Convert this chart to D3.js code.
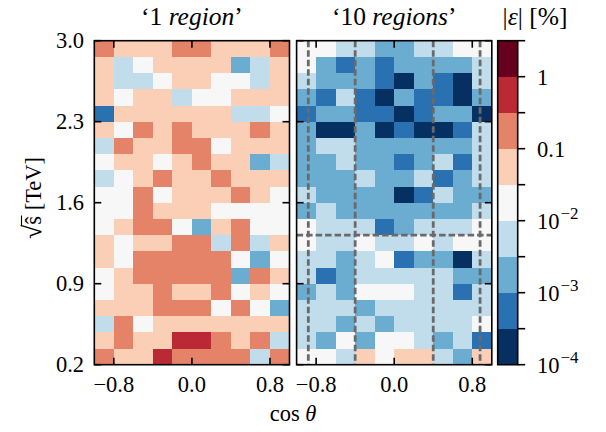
<!DOCTYPE html>
<html>
<head>
<meta charset="utf-8">
<script src="https://cdn.jsdelivr.net/npm/d3@7"></script>
<style>
  body { margin: 0; background: #fff; }
  svg { display: block; font-family: "Liberation Serif", "DejaVu Serif", serif; }
</style>
</head>
<body>
<div id="chart"></div>
<script>
// log10(|eps| in %) per cell, rows from sqrt(s)=3.0 down to 0.2, columns cos(theta) -1 -> 1
const oneRegion = [
  [-0.75,-1.25,-1.25,-1.25,-0.75,-0.75,-1.25,-1.25,-1.25,-0.75],
  [-1.25,-2.25,-1.75,-1.25,-1.25,-1.25,-1.25,-2.75,-2.25,-1.25],
  [-1.25,-2.25,-2.25,-1.75,-1.25,-1.25,-1.75,-1.75,-2.25,-1.25],
  [-1.25,-1.75,-1.25,-1.25,-2.25,-1.75,-1.75,-1.25,-1.25,-1.25],
  [-3.25,-1.25,-1.25,-1.25,-1.25,-1.25,-1.25,-2.25,-2.25,-1.75],
  [-1.25,-1.75,-0.75,-1.25,-0.75,-1.25,-1.25,-1.25,-0.75,-1.25],
  [-2.25,-0.75,-1.25,-1.25,-0.75,-0.75,-1.75,-1.25,-1.25,-1.25],
  [-1.75,-1.25,-1.25,-1.75,-1.25,-0.75,-1.25,-1.25,-2.75,-2.25],
  [-2.25,-1.75,-1.25,-0.75,-1.25,-1.25,-0.75,-1.25,-1.25,-1.25],
  [-1.75,-1.75,-0.75,-1.75,-1.25,-1.25,-1.25,-0.75,-1.25,-1.75],
  [-1.75,-1.75,-0.75,-1.25,-1.25,-1.25,-1.75,-1.75,-1.75,-1.75],
  [-1.75,-1.25,-0.75,-0.75,-1.75,-2.75,-1.25,-0.75,-1.75,-1.75],
  [-1.25,-1.75,-1.25,-1.25,-0.75,-0.75,-2.25,-0.75,-2.25,-1.25],
  [-1.25,-1.75,-0.75,-0.75,-0.75,-0.75,-0.75,-1.75,-2.75,-1.75],
  [-1.75,-1.25,-0.75,-0.75,-0.75,-0.75,-0.75,-2.75,-0.75,-1.25],
  [-1.75,-1.25,-1.25,-0.75,-1.25,-1.25,-0.75,-1.75,-1.25,-1.75],
  [-1.25,-1.25,-1.25,-0.75,-0.75,-0.75,-1.75,-0.75,-1.75,-2.75],
  [-2.25,-0.75,-1.75,-1.25,-1.25,-1.25,-1.25,-1.25,-1.25,-1.25],
  [-1.25,-0.75,-1.25,-1.25,-0.25,-0.25,-0.75,-1.25,-0.75,-2.25],
  [-0.75,-1.25,-1.25,-0.25,-0.75,-0.75,-0.75,-0.75,-2.25,-0.75]
];

const tenRegions = [
  [-1.75,-1.75,-2.25,-2.25,-2.75,-2.75,-2.25,-2.25,-1.75,-1.75],
  [-1.75,-2.75,-3.25,-2.75,-3.25,-2.75,-2.75,-2.75,-2.75,-2.25],
  [-2.25,-2.75,-2.75,-2.75,-3.25,-3.75,-2.75,-3.25,-3.75,-2.25],
  [-2.75,-3.25,-2.25,-3.25,-3.75,-2.75,-3.25,-3.25,-3.75,-2.75],
  [-3.25,-2.75,-2.75,-3.25,-3.25,-3.75,-3.25,-2.75,-2.75,-3.75],
  [-2.75,-3.75,-3.75,-2.75,-3.75,-3.25,-3.75,-3.75,-3.25,-2.25],
  [-2.75,-2.25,-2.25,-2.75,-2.75,-2.75,-2.75,-2.75,-2.75,-2.25],
  [-2.75,-2.75,-2.25,-2.75,-2.75,-3.25,-2.75,-2.25,-3.25,-2.25],
  [-2.75,-2.75,-2.75,-2.25,-2.75,-2.75,-2.25,-3.25,-2.75,-2.25],
  [-2.25,-2.75,-2.75,-2.75,-2.75,-3.75,-3.25,-2.25,-2.75,-2.75],
  [-2.75,-2.25,-2.75,-2.75,-2.75,-2.75,-2.75,-2.75,-2.75,-2.25],
  [-1.75,-2.25,-2.25,-2.25,-3.25,-2.75,-2.25,-2.25,-2.25,-1.75],
  [-1.75,-2.25,-2.25,-1.75,-2.25,-2.25,-1.75,-2.25,-1.75,-1.75],
  [-2.25,-2.25,-2.75,-2.25,-1.75,-3.25,-2.75,-2.75,-3.75,-2.25],
  [-2.25,-3.25,-2.75,-2.25,-2.25,-2.25,-2.25,-2.25,-2.75,-2.75],
  [-2.75,-2.25,-2.75,-1.75,-1.75,-1.75,-2.25,-2.25,-3.25,-2.25],
  [-2.25,-2.25,-2.25,-2.75,-2.25,-2.25,-2.25,-2.25,-2.25,-2.25],
  [-2.25,-2.25,-2.75,-2.25,-2.75,-2.25,-2.25,-2.25,-2.25,-1.75],
  [-2.25,-2.75,-1.75,-2.75,-1.75,-1.75,-2.25,-2.75,-2.25,-3.25],
  [-1.75,-1.75,-2.25,-1.25,-1.75,-1.25,-1.25,-2.25,-2.75,-1.25]
];

const panelTitles = ["1", "10"];
const cosTicks = [-0.8, 0.0, 0.8];
const sqrtsTicks = [0.2, 0.9, 1.6, 2.3, 3.0];
const regionCos = [-0.88, -0.4, 0.4, 0.88];
const regionSqrts = [1.32];
const cbarBounds = [-4, -3.5, -3, -2.5, -2, -1.5, -1, -0.5, 0, 0.5];
const cbarLabels = [[-4, "10", "\u22124"], [-3, "10", "\u22123"], [-2, "10", "\u22122"], [-1, "0.1", null], [0, "1", null]];
const binColors = ["#053061", "#2a71b2", "#6bacd1", "#c1ddeb", "#f7f7f7", "#fbceb6", "#e58368", "#bb2a34", "#67001f"];

const W = 606, H = 432;
const plotTop = 40.7, plotBottom = 364.7, panelW = 195.2;
const panelX = [94.3, 296.6];
const cbX = 497.7, cbW = 20;
const tickFont = 22.5, titleFont = 25.5;

const svg = d3.select("#chart").append("svg").attr("width", W).attr("height", H);

const y = d3.scaleLinear().domain([0.2, 3.0]).range([plotBottom, plotTop]);
const color = d3.scaleThreshold().domain(cbarBounds.slice(1, -1)).range(binColors);
const nRows = oneRegion.length, nCols = oneRegion[0].length;
const rowH = 2.8 / nRows, colW = 2 / nCols;

[oneRegion, tenRegions].forEach((grid, p) => {
  const x = d3.scaleLinear().domain([-1, 1]).range([panelX[p], panelX[p] + panelW]);
  const g = svg.append("g");

  const cells = [];
  grid.forEach((row, i) => row.forEach((v, j) => cells.push({i, j, v})));
  g.append("g").selectAll("rect").data(cells).join("rect")
    .attr("x", d => x(-1 + d.j * colW))
    .attr("width", d => x(-1 + (d.j + 1) * colW) - x(-1 + d.j * colW))
    .attr("y", d => y(3.0 - d.i * rowH))
    .attr("height", d => y(3.0 - (d.i + 1) * rowH) - y(3.0 - d.i * rowH))
    .attr("fill", d => color(d.v))
    .attr("shape-rendering", "crispEdges");

  if (p === 1) {
    const dash = g.append("g").attr("stroke", "#6a6a6a").attr("stroke-width", 2.8)
      .attr("stroke-dasharray", "6.5,3");
    dash.selectAll("line.v").data(regionCos).join("line").attr("class", "v")
      .attr("x1", d => x(d)).attr("x2", d => x(d)).attr("y1", plotTop).attr("y2", plotBottom);
    dash.selectAll("line.h").data(regionSqrts).join("line").attr("class", "h")
      .attr("x1", x(-1)).attr("x2", x(1)).attr("y1", d => y(d)).attr("y2", d => y(d));
  }

  // inward ticks on all four sides
  const tk = g.append("g").attr("stroke", "#000").attr("stroke-width", 1.6);
  cosTicks.forEach(t => {
    tk.append("line").attr("x1", x(t)).attr("x2", x(t)).attr("y1", plotBottom).attr("y2", plotBottom - 7);
    tk.append("line").attr("x1", x(t)).attr("x2", x(t)).attr("y1", plotTop).attr("y2", plotTop + 7);
  });
  sqrtsTicks.forEach(t => {
    tk.append("line").attr("x1", x(-1)).attr("x2", x(-1) + 7).attr("y1", y(t)).attr("y2", y(t));
    tk.append("line").attr("x1", x(1)).attr("x2", x(1) - 7).attr("y1", y(t)).attr("y2", y(t));
  });

  g.append("rect").attr("x", x(-1)).attr("y", plotTop).attr("width", panelW).attr("height", plotBottom - plotTop)
    .attr("fill", "none").attr("stroke", "#000").attr("stroke-width", 1.6);

  g.selectAll("text.xt").data(cosTicks).join("text").attr("class", "xt")
    .attr("x", d => x(d)).attr("y", 392).attr("text-anchor", "middle").attr("font-size", tickFont)
    .text(d => d3.format(".1f")(d).replace("-", "\u2212"));

  if (p === 0) {
    g.selectAll("text.yt").data(sqrtsTicks).join("text").attr("class", "yt")
      .attr("x", 84).attr("y", d => y(d) + 7.5).attr("text-anchor", "end").attr("font-size", tickFont)
      .text(d => d3.format(".1f")(d));
  }

  const title = g.append("text").attr("x", x(0)).attr("y", 25).attr("text-anchor", "middle").attr("font-size", titleFont);
  title.append("tspan").text("\u2018" + panelTitles[p] + " ");
  title.append("tspan").attr("font-style", "italic").text(p === 0 ? "region" : "regions");
  title.append("tspan").text("\u2019");
});

// colour bar
const cy = d3.scaleLinear().domain([-4, 0.5]).range([plotBottom, plotTop]);
const cb = svg.append("g");
cb.selectAll("rect").data(d3.pairs(cbarBounds)).join("rect")
  .attr("x", cbX).attr("width", cbW)
  .attr("y", d => cy(d[1])).attr("height", d => cy(d[0]) - cy(d[1]))
  .attr("fill", d => color((d[0] + d[1]) / 2))
  .attr("shape-rendering", "crispEdges");
cb.append("rect").attr("x", cbX).attr("y", plotTop).attr("width", cbW).attr("height", plotBottom - plotTop)
  .attr("fill", "none").attr("stroke", "#000").attr("stroke-width", 1.6);
cb.selectAll("line").data(cbarBounds).join("line")
  .attr("x1", cbX + cbW).attr("x2", cbX + cbW + 7.5)
  .attr("y1", d => cy(d)).attr("y2", d => cy(d))
  .attr("stroke", "#000").attr("stroke-width", 1.6);
cbarLabels.forEach(([v, base, sup]) => {
  const t = cb.append("text").attr("x", 537).attr("y", cy(v) + 8).attr("font-size", tickFont);
  t.append("tspan").text(base);
  if (sup) t.append("tspan").attr("dx", 1).attr("dy", -10).attr("font-size", 17).text(sup);
});
const cbt = cb.append("text").attr("x", 535).attr("y", 25).attr("text-anchor", "middle").attr("font-size", titleFont);
cbt.append("tspan").text("|");
cbt.append("tspan").attr("font-style", "italic").text("\u03b5");
cbt.append("tspan").text("| [%]");

// axis labels
const xl = svg.append("text").attr("x", (panelX[0] + panelX[1] + panelW) / 2).attr("y", 421)
  .attr("text-anchor", "middle").attr("font-size", tickFont);
xl.append("tspan").text("cos ");
xl.append("tspan").attr("font-style", "italic").text("\u03b8");

const yg = svg.append("g").attr("transform", "translate(41,198) rotate(-90)");
const yl = yg.append("text").attr("text-anchor", "middle").attr("font-size", tickFont);
yl.append("tspan").attr("font-size", 26).text("\u221a");
yl.append("tspan").text("\u015d");
yl.append("tspan").text(" [TeV]");
const rootBox = yl.node().getExtentOfChar(0);
const sBox = yl.node().getExtentOfChar(1);
yg.append("line")
  .attr("x1", rootBox.x + rootBox.width - 1.5).attr("x2", sBox.x + sBox.width + 0.5)
  .attr("y1", rootBox.y + 3.5).attr("y2", rootBox.y + 3.5)
  .attr("stroke", "#000").attr("stroke-width", 1.1);
</script>
</body>
</html>
